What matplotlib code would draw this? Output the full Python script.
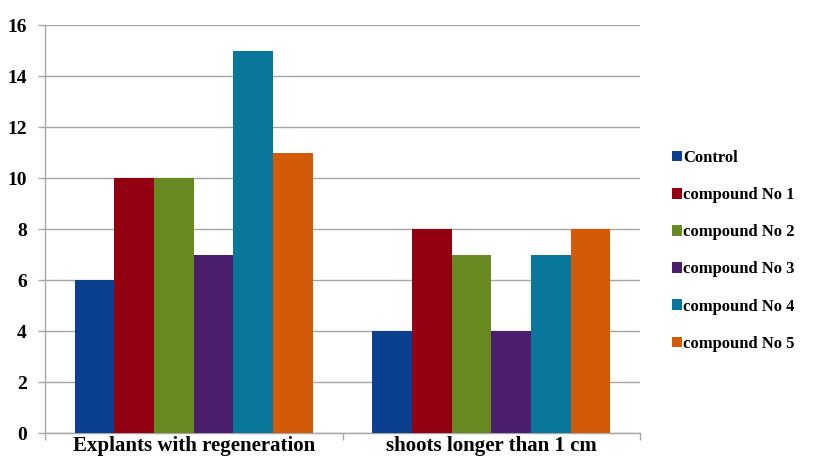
import matplotlib
matplotlib.use("Agg")
import matplotlib.pyplot as plt
import numpy as np

categories = ["Explants with regeneration", "shoots longer than 1 cm"]
series_names = ["Control", "compound No 1", "compound No 2", "compound No 3",
                "compound No 4", "compound No 5"]
values = {
    "Control": [6, 4],
    "compound No 1": [10, 8],
    "compound No 2": [10, 7],
    "compound No 3": [7, 4],
    "compound No 4": [15, 7],
    "compound No 5": [11, 8],
}
colors = ["#0b3f8f", "#930012", "#698a22", "#4a1e6d", "#08779b", "#d35a09"]
y_ticks = [0, 2, 4, 6, 8, 10, 12, 14, 16]

plt.rcParams["font.family"] = ["Liberation Serif", "DejaVu Serif"]
plt.rcParams["font.weight"] = "bold"

fig = plt.figure(figsize=(8.28, 4.57), dpi=100)
ax = fig.add_axes([0.0543, 0.0525, 0.7187, 0.8925])

n = len(series_names)
group_w = 0.8
bw = group_w / n
x = np.arange(len(categories)) + 0.5
for i, name in enumerate(series_names):
    offs = -group_w / 2 + bw * (i + 0.5)
    ax.bar(x + offs, values[name], width=bw, color=colors[i], label=name,
           zorder=3, linewidth=0)

ax.set_xlim(0, len(categories))
ax.set_ylim(0, 16)
ax.set_yticks(y_ticks)
ax.set_yticklabels([str(t) for t in y_ticks], fontsize=14, fontweight="bold")
ax.yaxis.grid(True, color="#a6a6a6", linewidth=1.0, zorder=0)
ax.set_axisbelow(True)

# category labels centred between boundary ticks
ax.set_xticks([0, 1, 2])
ax.set_xticklabels([])
ax.set_xticks(x, minor=True)
ax.set_xticklabels(categories, minor=True, fontsize=15, fontweight="bold")
ax.tick_params(axis="x", which="minor", length=0, pad=2)
ax.tick_params(axis="x", which="major", length=5, color="#a6a6a6", width=1)
ax.tick_params(axis="y", length=5, color="#a6a6a6", width=1, pad=8)

for s in ["top", "right"]:
    ax.spines[s].set_visible(False)
for s in ["left", "bottom"]:
    ax.spines[s].set_color("#a6a6a6")
    ax.spines[s].set_linewidth(1)

leg = ax.legend(loc="center left", bbox_to_anchor=(0.8116, 0.451),
                bbox_transform=fig.transFigure, frameon=False,
                prop={"weight": "bold", "size": 12},
                handlelength=0.6, handleheight=0.6, handletextpad=0.08,
                labelspacing=1.27, borderpad=0, borderaxespad=0)

fig.savefig("out.png", dpi=100)
